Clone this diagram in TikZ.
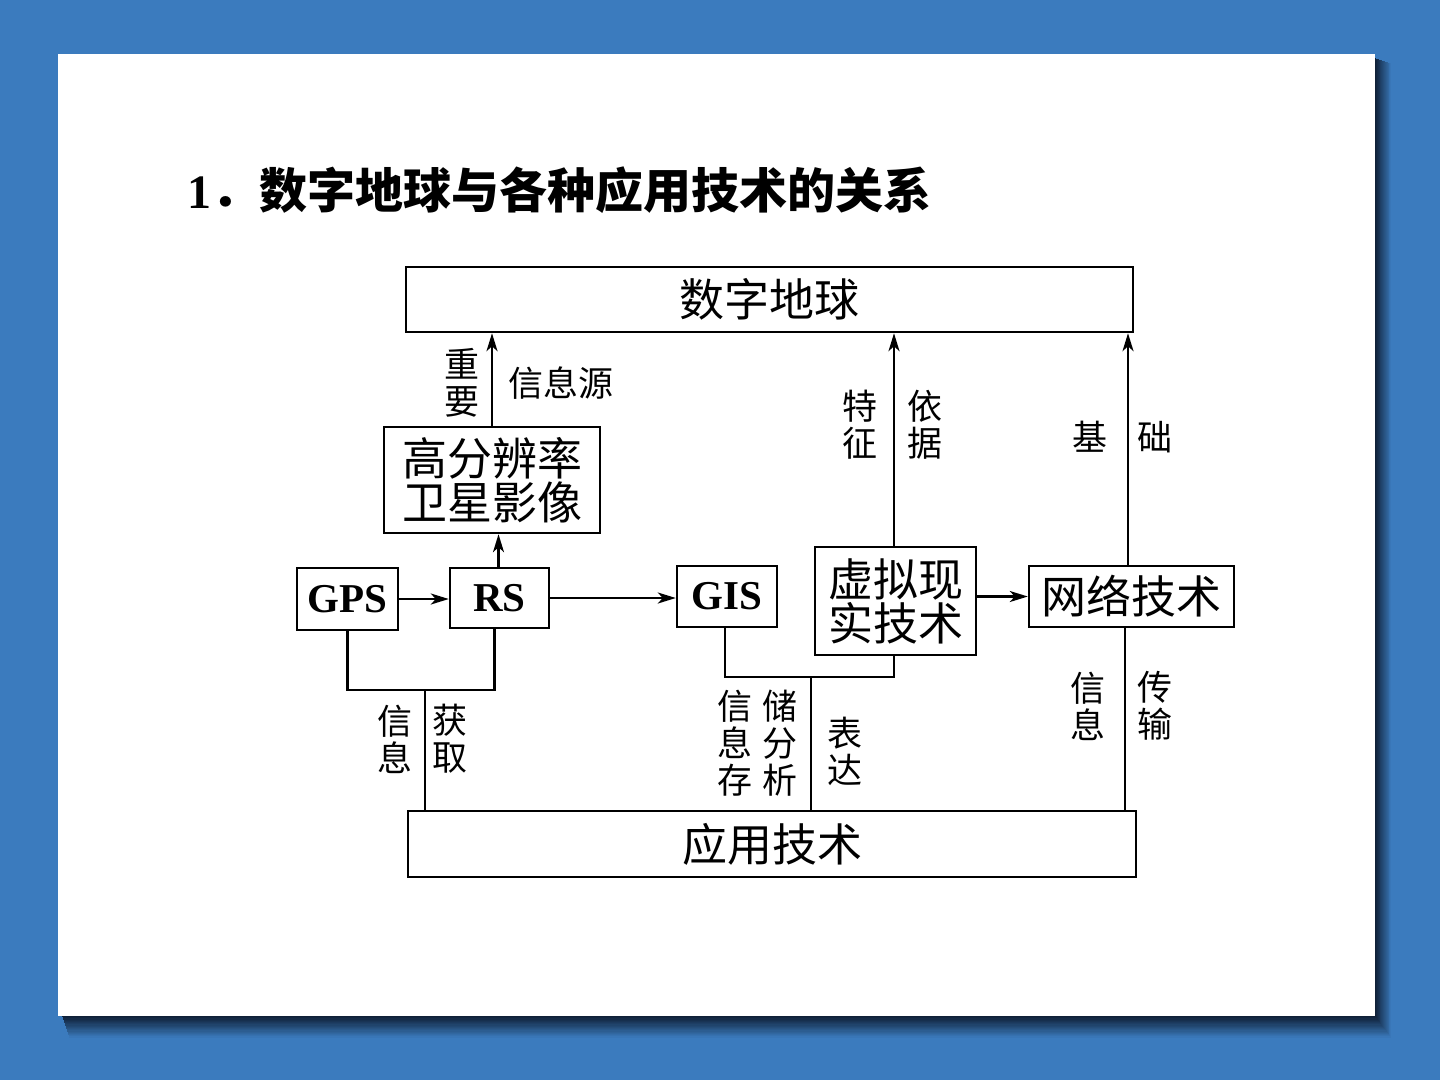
\documentclass[tikz,border=0pt]{standalone}
\usepackage{fontspec}
\setmainfont{Liberation Serif}
\newfontfamily\cjk{Noto Sans CJK SC}
\usetikzlibrary{arrows.meta}
\definecolor{bg}{HTML}{3B7BBE}
\definecolor{shade}{HTML}{0A1628}
\tikzset{
  box/.style={draw, line width=2.4pt, inner sep=0pt, font=\cjk\fontsize{45}{44}\selectfont, align=center},
  latinbox/.style={draw, line width=2.4pt, inner sep=0pt, font=\bfseries\fontsize{41}{41}\selectfont},
  lab/.style={inner sep=0pt, font=\cjk\fontsize{35}{37}\selectfont, align=center},
  arr/.style={line width=2.3pt, -{Stealth[length=18pt,width=11pt,inset=5pt]}},
  ln/.style={line width=2.3pt},
}
\begin{document}
\begin{tikzpicture}[x=1pt,y=-1pt]
\useasboundingbox (0,0) rectangle (1440,1080);
\fill[bg] (0,0) rectangle (1440,1080);
% card shadow (soft, right and bottom), outer layers first
\foreach \k in {18,...,1} {
  \pgfmathtruncatemacro{\p}{95-5*\k}
  \fill[shade!\p!bg] ({62+0.4*\k},{58+0.3*\k}) rectangle ({1375+0.9*\k},{1016+1.2*\k});
}
\fill[white] (58,54) rectangle (1375,1016);

% title
\node[anchor=west, inner sep=0pt, font=\fontsize{48}{48}\selectfont] (title) at (187,190) {\textbf{1}{\cjk\bfseries ．数字地球与各种应用技术的关系}};

% boxes
\node[box, minimum width=727, minimum height=65] (de) at (769.5,299.5) {数字地球};
\node[box, minimum width=728, minimum height=66] (app) at (772,844) {应用技术};
\node[box, minimum width=216, minimum height=106] (hr) at (492,480) {高分辨率\\卫星影像};
\node[latinbox, minimum width=101, minimum height=62] (gps) at (347.5,599) {GPS};
\node[latinbox, minimum width=99, minimum height=60] (rs) at (499.5,598) {RS};
\node[latinbox, minimum width=100, minimum height=61] (gis) at (727,596.5) {GIS};
\node[box, minimum width=161, minimum height=108] (vr) at (895.5,601) {虚拟现\\实技术};
\node[box, minimum width=205, minimum height=61] (net) at (1131.5,596.5) {网络技术};

% arrows
\draw[arr] (hr.north) -- (hr.north |- de.south);
\draw[arr] ([xshift=-1pt]rs.north) -- ([xshift=-1pt]rs.north |- hr.south);
\draw[arr] (gps.east) -- (gps.east -| rs.west);
\draw[arr] (rs.east) -- (rs.east -| gis.west);
\draw[arr] (vr.east |- net.west) -- (net.west);
\draw[arr] ([xshift=-1.5pt]vr.north) -- ([xshift=-1.5pt]vr.north |- de.south);
\draw[arr] ([xshift=-3.5pt]net.north) -- ([xshift=-3.5pt]net.north |- de.south);

% brackets to application technology
\coordinate (j1) at (425,690);
\draw[ln] (gps.south) |- (j1) -| ([xshift=-5pt]rs.south);
\draw[ln] (j1) -- (j1 |- app.north);
\coordinate (j2) at (811,677);
\draw[ln] ([xshift=-2pt]gis.south) |- (j2) -| ([xshift=-1.5pt]vr.south);
\draw[ln] (j2) -- (j2 |- app.north);
\draw[ln] ([xshift=-6.5pt]net.south) -- ([xshift=-6.5pt]net.south |- app.north);

% labels
\node[lab] (l1) at (462,383) {重\\要};
\node[lab] (l2) at (561,383) {信息源};
\node[lab] (l3) at (860,425) {特\\征};
\node[lab] (l4) at (925,425) {依\\据};
\node[lab] (l5) at (1090,437) {基};
\node[lab] (l6) at (1155,437) {础};
\node[lab] (l7) at (395,739) {信\\息};
\node[lab] (l8) at (450,739) {获\\取};
\node[lab] (l9) at (735,743) {信\\息\\存};
\node[lab] (l10) at (780,743) {储\\分\\析};
\node[lab] (l11) at (845,751) {表\\达};
\node[lab] (l12) at (1088,706) {信\\息};
\node[lab] (l13) at (1155,706) {传\\输};
\end{tikzpicture}
\end{document}
